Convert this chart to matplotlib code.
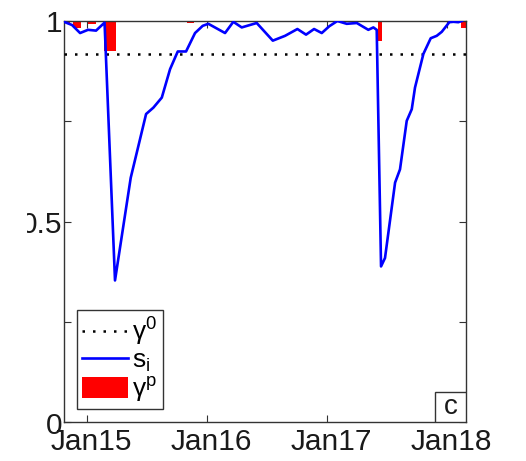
import matplotlib
matplotlib.use("Agg")
import matplotlib.pyplot as plt
import matplotlib.transforms as mtransforms
from matplotlib.patches import Rectangle, Patch
from matplotlib.lines import Line2D

plt.rcParams['font.family'] = ['Liberation Sans', 'DejaVu Sans']
plt.rcParams['mathtext.fontset'] = 'custom'
plt.rcParams['mathtext.rm'] = 'Liberation Sans'
plt.rcParams['mathtext.it'] = 'Liberation Sans'

# ---- data (x in decimal years) ----
s_x = [2014.808, 2014.875, 2014.942, 2015.008, 2015.075, 2015.146, 2015.233,
       2015.364, 2015.492, 2015.553, 2015.623, 2015.692, 2015.756, 2015.825,
       2015.900, 2015.964, 2016.011, 2016.150, 2016.219, 2016.289, 2016.414,
       2016.548, 2016.650, 2016.753, 2016.825, 2016.892, 2016.956, 2017.019,
       2017.086, 2017.164, 2017.248, 2017.344, 2017.386, 2017.414, 2017.450,
       2017.483, 2017.567, 2017.608, 2017.664, 2017.706, 2017.733, 2017.803,
       2017.864, 2017.914, 2017.956, 2018.019, 2018.053, 2018.094, 2018.123]
s_i = [0.998, 0.990, 0.970, 0.978, 0.976, 0.996, 0.353,
       0.609, 0.768, 0.784, 0.809, 0.880, 0.924, 0.924,
       0.970, 0.988, 0.993, 0.970, 0.998, 0.984, 0.995,
       0.951, 0.963, 0.980, 0.966, 0.980, 0.970, 0.987,
       1.000, 0.993, 0.995, 0.978, 0.984, 0.978, 0.388,
       0.409, 0.597, 0.630, 0.751, 0.780, 0.834, 0.918,
       0.957, 0.963, 0.973, 0.997, 0.998, 0.997, 1.000]

gp_x = [2014.833, 2014.914, 2015.043, 2015.192, 2015.863, 2016.988, 2017.444, 2018.138]
gp_val = [0.995, 0.982, 0.9925, 0.926, 0.996, 0.997, 0.950, 0.983]
gp_width = [0.05, 0.067, 0.064, 0.095, 0.063, 0.042, 0.033, 0.042]

gamma0 = 0.918

xtick_pos = [2015, 2016, 2017, 2018]
xtick_labels = ['Jan15', 'Jan16', 'Jan17', 'Jan18']
ytick_pos = [0, 0.25, 0.5, 0.75, 1]
ytick_labels = ['0', '', '0.5', '', '1']

# ---- figure ----
W, H = 526, 461
fig = plt.figure(figsize=(W / 100, H / 100), dpi=100)
ax = fig.add_axes([64 / W, 1 - 422 / H, (466 - 64) / W, (422 - 21) / H])

xmin, xmax = 2014.808, 2018.158

ax.bar(gp_x, [1 - v for v in gp_val], width=gp_width, bottom=gp_val,
       color='red', edgecolor='none', zorder=2)
ax.axhline(gamma0, color='black', lw=1.8, linestyle=(0, (1, 3.2)), zorder=3)
ax.plot(s_x, s_i, color='blue', lw=1.9, zorder=4)

ax.set_xlim(xmin, xmax)
ax.set_ylim(0, 1)

ax.set_xticks(xtick_pos)
ax.set_xticklabels(xtick_labels)
ax.set_yticks(ytick_pos)
ax.set_yticklabels(ytick_labels)
ax.tick_params(direction='in', length=5, width=0.8, color='#333333',
               top=True, right=True, labelsize=21.5, labelcolor='#1a1a1a')
ax.tick_params(axis='y', pad=1)
ax.tick_params(axis='x', pad=4)
offset = mtransforms.ScaledTranslation(4.5 / 100, 0, fig.dpi_scale_trans)
for lab in ax.get_xticklabels():
    lab.set_transform(lab.get_transform() + offset)
offy = mtransforms.ScaledTranslation(0, -1 / 100, fig.dpi_scale_trans)
ax.get_yticklabels()[0].set_transform(ax.get_yticklabels()[0].get_transform() + offy)

for sp in ax.spines.values():
    sp.set_color('#333333')
    sp.set_linewidth(1.0)

handles = [Line2D([], [], color='black', lw=1.8, linestyle=(0, (1, 3.2))),
           Line2D([], [], color='blue', lw=1.9),
           Patch(facecolor='red', edgecolor='none')]
labels = [r'$\mathrm{\gamma}^{\mathrm{0}}$', r'$\mathrm{s}_{\mathrm{i}}$',
          r'$\mathrm{\gamma}^{\mathrm{p}}$']
leg = ax.legend(handles, labels, loc='lower left',
                bbox_to_anchor=((77 - 64) / 402, (422 - 409) / 401),
                borderaxespad=0, fontsize=19, handlelength=1.75, handleheight=0.85,
                handletextpad=0.15, labelspacing=0.02, borderpad=0.2,
                fancybox=False, framealpha=1, edgecolor='#333333')
leg.get_frame().set_linewidth(1.0)

# panel letter box
bw, bh = 31 / 402, 30 / 401
ax.add_patch(Rectangle((1 - bw, 0), bw, bh, transform=ax.transAxes,
                       facecolor='white', edgecolor='#333333', lw=1.0, zorder=6))
ax.text(1 - bw / 2, bh / 2, 'c', transform=ax.transAxes, ha='center', va='center',
        fontsize=20, color='#1a1a1a', zorder=7)

# left edge clipped as in the reference
fig.add_artist(Rectangle((0, 0), 27 / W, 1, transform=fig.transFigure,
                         facecolor='white', edgecolor='none', zorder=10))

fig.savefig('out.png', dpi=100, facecolor='white')
